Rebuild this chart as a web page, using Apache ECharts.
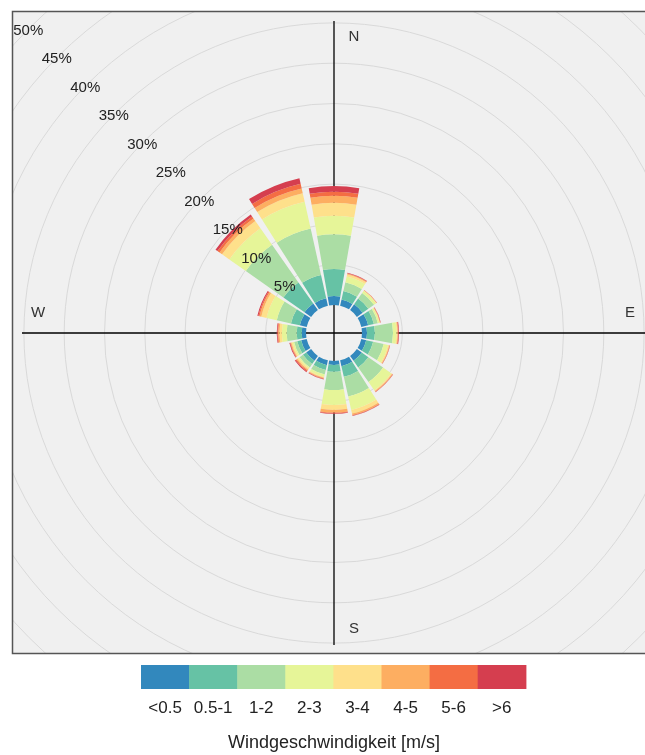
<!DOCTYPE html>
<html>
<head>
<meta charset="utf-8">
<script src="https://cdn.jsdelivr.net/npm/echarts@6/dist/echarts.min.js"></script>
<style>
html,body{margin:0;padding:0;background:#fff;}
#chart{width:645px;height:755px;}
</style>
</head>
<body>
<div id="chart"></div>
<script>
// ---------------- data ----------------
const directions = ['N','NNE','NE','ENE','E','ESE','SE','SSE','S','SSW','SW','WSW','W','WNW','NW','NNW'];
const speedClasses = ['<0.5','0.5-1','1-2','2-3','3-4','4-5','5-6','>6'];
const classColors = ['#3288BD','#66C2A5','#ABDDA4','#E6F598','#FEE08B','#FDAE61','#F46D43','#D53E4F'];

// frequency (%) per direction (order as in directions) for each speed class
const freqLt05 = [1.12,0.80,0.87,0.87,0.62,0.62,0.74,0.74,0.50,0.62,0.74,0.70,0.53,0.87,1.00,0.95];
const freq05to1 = [3.35,1.06,0.87,0.73,0.98,0.88,1.00,1.36,0.83,0.62,0.50,0.50,0.62,1.13,3.20,2.95];
const freq1to2 = [4.30,1.12,0.86,0.50,2.25,1.35,2.23,2.50,2.27,0.56,0.50,0.40,1.25,1.80,5.70,5.90];
const freq2to3 = [2.31,0.74,0.32,0.20,0.43,0.55,1.23,1.70,1.86,0.30,0.18,0.20,0.60,1.30,2.50,3.40];
const freq3to4 = [1.61,0.25,0.06,0.06,0.12,0.13,0.13,0.46,0.62,0.13,0.18,0.15,0.30,0.67,1.10,1.10];
const freq4to5 = [0.87,0.08,0.03,0.05,0.07,0.07,0.09,0.19,0.32,0.09,0.13,0.10,0.17,0.23,0.40,0.60];
const freq5to6 = [0.50,0.07,0.02,0.04,0.06,0.03,0.04,0.07,0.10,0.06,0.13,0.07,0.08,0.14,0.30,0.60];
const freqGt6 = [0.70,0.06,0.02,0.03,0.07,0.03,0.04,0.05,0.08,0.05,0.12,0.08,0.09,0.13,0.30,0.70];

const gridTicks = [5,10,15,20,25,30,35,40,45,50];
const compassLabels = ['N','E','S','W'];
const legendTitle = 'Windgeschwindigkeit [m/s]';

// ---------------- layout ----------------
const CX = 334, CY = 333;
const HOLE_PX = 28;          // radius of the hollow centre
const PX_PER_PCT = 8.06;     // radial scale
const R_MAX_PCT = 55;
const PANEL = {x: 12.5, y: 11.5, w: 650, h: 642};
const AXIS_HALF = 312;       // crosshair half length
const COMPASS_DIST = 296, COMPASS_OFF = 20;
const LABEL_DX = -1, LABEL_DY = 2.5;
const FONT = '"Liberation Sans", Arial, sans-serif';

const classData = [freqLt05, freq05to1, freq1to2, freq2to3, freq3to4, freq4to5, freq5to6, freqGt6];
const nwIndex = directions.indexOf('NW');

const chart = echarts.init(document.getElementById('chart'), null, {renderer: 'canvas'});

const clipRect = {type: 'rect', shape: {x: PANEL.x, y: PANEL.y, width: PANEL.w, height: PANEL.h}};

function txt(x, y, text, size, color) {
  return {type: 'text', x: x, y: y, style: {text: text, fill: color, font: size + 'px ' + FONT,
    align: 'center', verticalAlign: 'middle', textAlign: 'center', textVerticalAlign: 'middle'}};
}

const series = [];

// panel background
series.push({
  type: 'custom', coordinateSystem: 'polar', z: 0, silent: true, animation: false,
  data: [[0, 0]],
  renderItem: function () {
    return {type: 'rect', shape: {x: PANEL.x, y: PANEL.y, width: PANEL.w, height: PANEL.h}, style: {fill: '#f0f0f0'}};
  }
});

// grid circles
series.push({
  type: 'custom', coordinateSystem: 'polar', z: 1, silent: true, animation: false,
  data: gridTicks.map(function (v) { return [v, nwIndex]; }),
  renderItem: function (params, api) {
    const cs = params.coordSys;
    const p = api.coord([api.value(0), api.value(1)]);
    const r = Math.hypot(p[0] - cs.cx, p[1] - cs.cy);
    return {type: 'group', clipPath: clipRect, children: [
      {type: 'circle', shape: {cx: cs.cx, cy: cs.cy, r: r}, style: {fill: 'none', stroke: '#d9d9d9', lineWidth: 1}}
    ]};
  }
});

// crosshair and compass labels
series.push({
  type: 'custom', coordinateSystem: 'polar', z: 1.5, silent: true, animation: false,
  data: [[0, 0]],
  renderItem: function (params) {
    const cs = params.coordSys;
    const cx = cs.cx, cy = cs.cy;
    const pos = {
      N: [cx + COMPASS_OFF, cy - COMPASS_DIST],
      E: [cx + COMPASS_DIST, cy - COMPASS_OFF],
      S: [cx + COMPASS_OFF, cy + COMPASS_DIST],
      W: [cx - COMPASS_DIST, cy - COMPASS_OFF]
    };
    const children = [
      {type: 'line', shape: {x1: cx - AXIS_HALF, y1: cy, x2: cx + AXIS_HALF, y2: cy}, style: {stroke: '#000', lineWidth: 1.3}},
      {type: 'line', shape: {x1: cx, y1: cy - AXIS_HALF, x2: cx, y2: cy + AXIS_HALF}, style: {stroke: '#000', lineWidth: 1.3}}
    ];
    compassLabels.forEach(function (l) { children.push(txt(pos[l][0], pos[l][1], l, 15, '#333')); });
    return {type: 'group', children: children, clipPath: clipRect};
  }
});

// stacked petals
speedClasses.forEach(function (name, i) {
  series.push({
    type: 'bar', coordinateSystem: 'polar', stack: 'wind', name: name,
    data: classData[i], barWidth: '88%', z: 2, silent: true, animation: false,
    itemStyle: {color: classColors[i]}
  });
});

// percentage labels along NW
series.push({
  type: 'custom', coordinateSystem: 'polar', z: 3, silent: true, animation: false,
  data: gridTicks.map(function (v) { return [v, nwIndex]; }),
  renderItem: function (params, api) {
    const p = api.coord([api.value(0), api.value(1)]);
    return txt(p[0] + LABEL_DX, p[1] + LABEL_DY, api.value(0) + '%', 15, '#222');
  }
});

const graphic = [];
const LEG_X = 141, LEG_Y = 665, LEG_W = 48.1, LEG_H = 24;
speedClasses.forEach(function (lab, i) {
  graphic.push({type: 'rect', shape: {x: LEG_X + i * LEG_W, y: LEG_Y, width: LEG_W + 0.6, height: LEG_H},
    style: {fill: classColors[i]}, silent: true});
  graphic.push(Object.assign(txt(LEG_X + i * LEG_W + LEG_W / 2, 708, lab, 17, '#222'), {silent: true}));
});
graphic.push(Object.assign(txt(334, 743, legendTitle, 18, '#222'), {silent: true}));
// panel border
graphic.push({type: 'rect', z: 100, shape: {x: PANEL.x, y: PANEL.y, width: PANEL.w, height: PANEL.h},
  style: {fill: 'none', stroke: '#555', lineWidth: 1.5}, silent: true});

chart.setOption({
  animation: false,
  backgroundColor: '#ffffff',
  polar: {center: [CX, CY], radius: HOLE_PX + R_MAX_PCT * PX_PER_PCT},
  angleAxis: {
    type: 'category', data: directions, startAngle: 90 + 360 / directions.length / 2, clockwise: true,
    boundaryGap: true,
    axisLine: {show: false}, axisTick: {show: false}, axisLabel: {show: false},
    splitLine: {show: false}, splitArea: {show: false}
  },
  radiusAxis: {
    type: 'value', min: -HOLE_PX / PX_PER_PCT, max: R_MAX_PCT,
    axisLine: {show: false}, axisTick: {show: false}, axisLabel: {show: false},
    splitLine: {show: false}, splitArea: {show: false}
  },
  series: series,
  graphic: graphic
});
</script>
</body>
</html>
